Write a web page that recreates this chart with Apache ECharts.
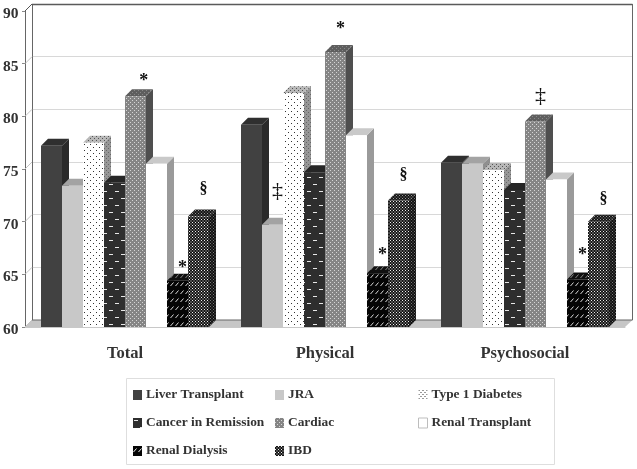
<!DOCTYPE html>
<html><head><meta charset="utf-8">
<style>html,body{margin:0;padding:0;background:#fff}#c{width:637px;height:469px}</style>
<script src="https://cdn.jsdelivr.net/npm/echarts@6/dist/echarts.min.js"></script>
</head><body><div id="c"></div>
<script>
const categories = ['Total', 'Physical', 'Psychosocial'];
const yTicks = [60, 65, 70, 75, 80, 85, 90];
const liver = [77.2, 79.2, 75.6];
const jra = [73.4, 69.7, 75.5];
const diabetes = [77.5, 82.2, 74.9];
const cancer = [73.7, 74.7, 73.0];
const cardiac = [81.9, 86.1, 79.5];
const renalTransplant = [75.5, 78.2, 74.0];
const renalDialysis = [64.4, 65.1, 64.5];
const ibd = [70.5, 72.0, 70.0];
const annotations = [
  [0, 4.15, 83.3, '*'], [0, 6, 65.6, '*'], [0, 7, 73.1, '§'],
  [1, 1, 72.9, '‡'], [1, 4, 88.3, '*'], [1, 6, 66.8, '*'], [1, 7, 74.4, '§'],
  [2, 4, 81.9, '‡'], [2, 6, 66.8, '*'], [2, 7, 72.15, '§']
];

const font = '"Liberation Serif", serif';
const ink = '#333333';
const depth = 7;

function pat(w, h, bg, draw) {
  const c = document.createElement('canvas');
  c.width = w; c.height = h;
  const x = c.getContext('2d');
  x.fillStyle = bg; x.fillRect(0, 0, w, h);
  draw(x);
  return { image: c, repeat: 'repeat' };
}
const dots = (bg, fg, w, h, s) => pat(w, h, bg, x => {
  x.fillStyle = fg;
  x.fillRect(0, 0, s, s);
  x.fillRect(w / 2, h / 2, s, s);
});
const dashes = (bg, fg) => pat(12, 14, bg, x => {
  x.fillStyle = fg;
  x.fillRect(1, 2, 4, 1); x.fillRect(7, 9, 4, 1);
});
const slashes = (bg, fg) => pat(5, 8, bg, x => {
  x.strokeStyle = fg; x.lineWidth = 1;
  x.beginPath(); x.moveTo(0.5, 6); x.lineTo(3.5, 2.5); x.stroke();
});

const seriesDefs = [
  { name: 'Liver Transplant', data: liver, front: '#414141', top: '#2f2f2f', side: '#2a2a2a', icon: '#414141' },
  { name: 'JRA', data: jra, front: '#c8c8c8', top: '#a3a3a3', side: '#8f8f8f', icon: '#c8c8c8' },
  { name: 'Type 1 Diabetes', data: diabetes, front: dots('#ffffff', '#333333', 6, 6, 1), top: dots('#b8b8b8', '#555555', 4, 4, 1), side: dots('#979797', '#666666', 4, 4, 1), icon: dots('#ffffff', '#333333', 4, 4, 1) },
  { name: 'Cancer in Remission', data: cancer, front: dashes('#2e2e2e', '#e8e8e8'), top: '#262626', side: dashes('#242424', '#777777'), icon: dashes('#2e2e2e', '#e8e8e8') },
  { name: 'Cardiac', data: cardiac, front: dots('#858585', '#d5d5d5', 4, 4, 1), top: dots('#5e5e5e', '#888888', 4, 4, 1), side: '#4f4f4f', icon: dots('#858585', '#d5d5d5', 4, 4, 1) },
  { name: 'Renal Transplant', data: renalTransplant, front: '#ffffff', top: '#c9c9c9', side: '#9a9a9a', icon: '#ffffff' },
  { name: 'Renal Dialysis', data: renalDialysis, front: slashes('#050505', '#d8d8d8'), top: slashes('#101010', '#888888'), side: '#000000', icon: slashes('#050505', '#f0f0f0') },
  { name: 'IBD', data: ibd, front: dots('#151515', '#eeeeee', 3, 3, 1), top: dots('#151515', '#999999', 3, 3, 1), side: dots('#101010', '#777777', 3, 3, 1), icon: dots('#151515', '#eeeeee', 3, 3, 1) }
];

function barRender(def, i) {
  return function (params, api) {
    const cat = api.value(0), val = api.value(1);
    const top = api.coord([cat, val]);
    const base = api.coord([cat, 60]);
    const band = api.size([1, 0])[0];
    const w = band * 0.105;
    const x0 = top[0] + (i - 4) * w, x1 = x0 + w;
    const y0 = top[1], y1 = base[1];
    return {
      type: 'group',
      children: [
        { type: 'polygon', shape: { points: [[x1, y0], [x1 + depth, y0 - depth], [x1 + depth, y1 - depth], [x1, y1]] }, style: { fill: def.side } },
        { type: 'polygon', shape: { points: [[x0, y0], [x0 + depth, y0 - depth], [x1 + depth, y0 - depth], [x1, y0]] }, style: { fill: def.top } },
        { type: 'rect', shape: { x: x0, y: y0, width: w, height: y1 - y0 }, style: { fill: def.front } }
      ]
    };
  };
}

const barSeries = seriesDefs.map((d, i) => ({
  name: d.name,
  type: 'custom',
  xAxisIndex: 1, yAxisIndex: 1,
  clip: false,
  z: 5 + i,
  itemStyle: { color: d.icon },
  encode: { x: 0, y: 1 },
  renderItem: barRender(d, i),
  data: d.data.map((v, c) => [c, v])
}));

const frame = {
  type: 'custom', xAxisIndex: 1, yAxisIndex: 1, clip: false, z: 3, silent: true,
  encode: { y: 0 },
  data: yTicks.map(v => [v]),
  renderItem(params, api) {
    const v = api.value(0);
    const sys = params.coordSys;
    const y = api.coord([0, v])[1];
    const kids = [{ type: 'line', shape: { x1: sys.x, y1: y, x2: sys.x + depth, y2: y - depth }, style: { stroke: v === 90 ? '#555555' : '#c4c4c4', lineWidth: 1 } }];
    if (v === 60) {
      const backY = y - depth, topY = backY - sys.height, rightX = sys.x + sys.width + depth + 0.5;
      kids.push({ type: 'polygon', shape: { points: [[sys.x, y], [sys.x + depth, backY], [rightX, backY], [sys.x + sys.width, y]] }, style: { fill: '#c6c6c6' } });
      kids.push({ type: 'line', shape: { x1: sys.x + depth, y1: backY, x2: rightX, y2: backY }, style: { stroke: '#666666', lineWidth: 1 } });
      kids.push({ type: 'line', shape: { x1: sys.x + depth + 0.5, y1: backY, x2: sys.x + depth + 0.5, y2: topY }, style: { stroke: '#666666', lineWidth: 1 } });
      kids.push({ type: 'line', shape: { x1: sys.x + depth, y1: topY + 0.5, x2: rightX, y2: topY + 0.5 }, style: { stroke: '#5a5a5a', lineWidth: 1.4 } });
      kids.push({ type: 'line', shape: { x1: rightX, y1: backY, x2: rightX, y2: topY }, style: { stroke: '#666666', lineWidth: 1 } });
    }
    return { type: 'group', children: kids };
  }
};

const notes = {
  type: 'custom', xAxisIndex: 1, yAxisIndex: 1, clip: false, z: 20, silent: true,
  encode: { x: 0, y: 2 },
  data: annotations,
  renderItem(params, api) {
    const p = api.coord([api.value(0), api.value(2)]);
    const w = api.size([1, 0])[0] * 0.105;
    const sym = annotations[params.dataIndex][3];
    return {
      type: 'text',
      x: p[0] + (api.value(1) - 3.5) * w + 5,
      y: p[1],
      style: {
        text: sym, fill: '#111111', align: 'center', verticalAlign: 'middle',
        font: (sym === '*' ? 'bold 18px ' : sym === '‡' ? '22px ' : 'bold 16px ') + font
      }
    };
  }
};

const legendColumns = [
  { left: 133, names: [0, 3, 6] },
  { left: 275, names: [1, 4, 7] },
  { left: 418, names: [2, 5] }
];

const option = {
  backgroundColor: '#ffffff',
  animation: false,
  grid: [
    { left: 32, right: 5, top: 4, bottom: 149 },
    { left: 25, right: 12, top: 11, bottom: 142 },
    { left: 25, right: 12, top: 14, bottom: 139 }
  ],
  xAxis: [
    { gridIndex: 0, type: 'category', data: categories, show: false },
    {
      gridIndex: 1, type: 'category', data: categories,
      axisLine: { lineStyle: { color: '#c8c8c8', width: 1 } },
      axisTick: { length: 4, lineStyle: { color: '#c8c8c8' } },
      axisLabel: { margin: 18, color: ink, fontFamily: font, fontWeight: 'bold', fontSize: 16.5 }
    },
    { gridIndex: 2, type: 'category', data: categories, show: false }
  ],
  yAxis: [
    {
      gridIndex: 0, type: 'value', min: 60, max: 90, interval: 5,
      axisLine: { show: false }, axisTick: { show: false }, axisLabel: { show: false },
      splitLine: { lineStyle: { color: '#d8d8d8', width: 1 } }
    },
    {
      gridIndex: 1, type: 'value', min: 60, max: 90, interval: 5,
      axisLine: { show: true, lineStyle: { color: '#666666', width: 1 } },
      axisTick: { show: true, length: 3, lineStyle: { color: '#888888' } },
      splitLine: { show: false },
      axisLabel: { show: false }
    },
    {
      gridIndex: 2, type: 'value', min: 60, max: 90, interval: 5,
      axisLine: { show: false }, axisTick: { show: false }, splitLine: { show: false },
      axisLabel: { margin: 7, color: ink, fontFamily: font, fontWeight: 'bold', fontSize: 15.5 }
    }
  ],
  legend: legendColumns.map(col => ({
    orient: 'vertical',
    left: col.left,
    top: 388,
    padding: 0,
    itemWidth: 9,
    itemHeight: 10,
    itemGap: 14,
    selectedMode: false,
    icon: 'rect',
    textStyle: { color: ink, fontFamily: font, fontWeight: 'bold', fontSize: 13.4, padding: [0, 0, 0, -1], lineHeight: 14 },
    data: col.names.map(k => ({ name: seriesDefs[k].name, itemStyle: { color: seriesDefs[k].icon, borderColor: '#bdbdbd', borderWidth: seriesDefs[k].icon === '#ffffff' ? 1 : 0 } }))
  })),
  graphic: [{
    type: 'rect', z: -1,
    shape: { x: 126.5, y: 378.5, width: 428, height: 86 },
    style: { fill: '#ffffff', stroke: '#dedede', lineWidth: 1 }
  }],
  series: [frame].concat(barSeries, [notes])
};
echarts.init(document.getElementById('c'), null, { renderer: 'canvas' }).setOption(option);
</script></body></html>
